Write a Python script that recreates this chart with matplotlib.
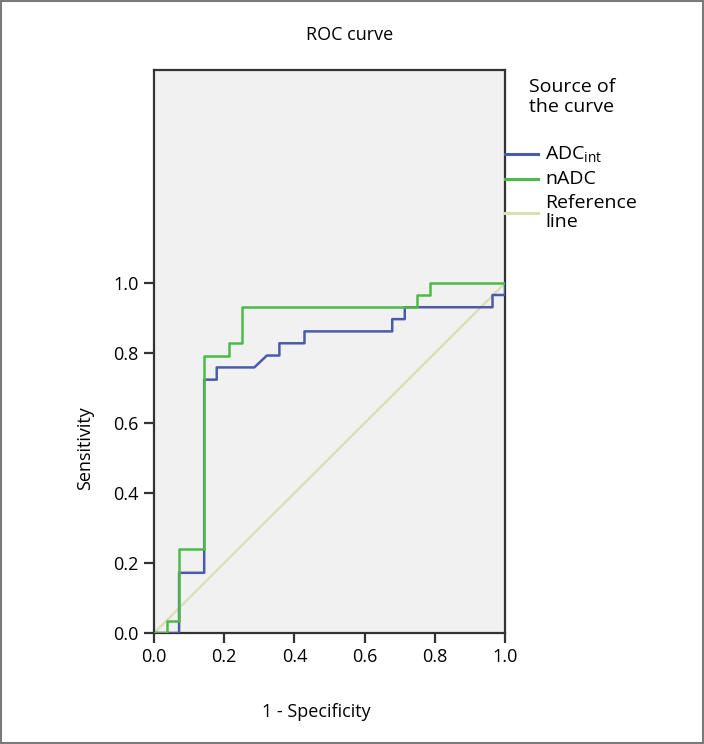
import matplotlib
matplotlib.use('Agg')
import matplotlib.pyplot as plt
from matplotlib.lines import Line2D
from matplotlib.patches import Rectangle

plt.rcParams['font.family'] = ['Open Sans', 'DejaVu Sans']
plt.rcParams['mathtext.fontset'] = 'custom'
plt.rcParams['mathtext.rm'] = 'Open Sans'
plt.rcParams['mathtext.it'] = 'Open Sans'

# ROC step points (1 - specificity, sensitivity)
fpr_adc = [0, 0.0714, 0.0714, 0.1429, 0.1429, 0.1786, 0.1786, 0.2857, 0.3214,
           0.3571, 0.3571, 0.4286, 0.4286, 0.6786, 0.6786, 0.7143, 0.7143,
           0.9643, 0.9643, 1.0, 1.0]
tpr_adc = [0, 0, 0.172, 0.172, 0.724, 0.724, 0.759, 0.759, 0.793,
           0.793, 0.828, 0.828, 0.862, 0.862, 0.897, 0.897, 0.931,
           0.931, 0.966, 0.966, 1.0]

fpr_nadc = [0, 0.0357, 0.0357, 0.0714, 0.0714, 0.1429, 0.1429, 0.2143, 0.2143,
            0.25, 0.25, 0.75, 0.75, 0.7857, 0.7857, 1.0]
tpr_nadc = [0, 0, 0.034, 0.034, 0.241, 0.241, 0.793, 0.793, 0.828,
            0.828, 0.931, 0.931, 0.966, 0.966, 1.0, 1.0]

ref_x = [0, 1]
ref_y = [0, 1]

ticks = [0.0, 0.2, 0.4, 0.6, 0.8, 1.0]

C_ADC = '#4a5ca8'
C_NADC = '#4cbb48'
C_REF = '#d9dfb2'
FS = 13
FS_LEG = 14

fig = plt.figure(figsize=(7.04, 7.44), dpi=100)
ax = fig.add_axes([0.2188, 0.1492, 0.4986, 0.7567])
ax.set_facecolor('#f1f1f1')

ax.plot(ref_x, ref_y, color=C_REF, lw=1.6, zorder=2)
ax.plot(fpr_adc, tpr_adc, color=C_ADC, lw=1.8, zorder=3)
ax.plot(fpr_nadc, tpr_nadc, color=C_NADC, lw=1.8, zorder=4)

ax.set_xlim(0, 1)
ax.set_ylim(0, 1.609)
ax.set_xticks(ticks)
ax.set_yticks(ticks)
ax.set_xticklabels([f'{t:.1f}' for t in ticks])
ax.set_yticklabels([f'{t:.1f}' for t in ticks])
ax.tick_params(direction='out', length=7, width=1.6, labelsize=FS, color='#333333', pad=4)
for s in ax.spines.values():
    s.set_linewidth(1.6)
    s.set_color('#333333')

fig.text(0.497, 0.953, 'ROC curve', ha='center', va='center', fontsize=FS)
fig.text(0.449, 0.043, '1 - Specificity', ha='center', va='center', fontsize=FS)
fig.text(0.121, 0.398, 'Sensitivity', ha='center', va='center', rotation=90, fontsize=FS)

# legend drawn by hand to the right of the plot
fig.text(0.751, 0.895, 'Source of\nthe curve', ha='left', va='top', fontsize=FS_LEG, linespacing=1.1)
leg = [(C_ADC, 0.793, r'ADC$_{\mathrm{int}}$'),
       (C_NADC, 0.759, 'nADC'),
       (C_REF, 0.714, 'Reference\nline')]
for col, yy, lab in leg:
    fig.add_artist(Line2D([0.717, 0.764], [yy, yy], color=col, lw=2.2,
                          transform=fig.transFigure))
    fig.text(0.774, yy, lab, ha='left', va='center', fontsize=FS_LEG, linespacing=1.05)

fig.add_artist(Rectangle((0.001, 0.001), 0.998, 0.998, transform=fig.transFigure,
                         fill=False, edgecolor='#7a7a7a', lw=1.5))

fig.savefig('out.png', dpi=100)
